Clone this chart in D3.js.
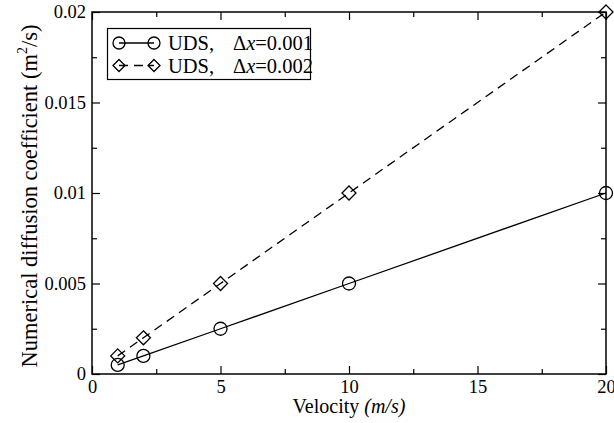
<!DOCTYPE html>
<html>
<head>
<meta charset="utf-8">
<script src="https://cdn.jsdelivr.net/npm/d3@7"></script>
<style>
  body { margin: 0; background: #fff; }
  text { font-family: "Liberation Serif", "Times New Roman", serif; fill: #000; }
</style>
</head>
<body>
<div id="chart"></div>
<script>
// data
const velocity = [1, 2, 5, 10, 20];
const coefDx001 = [0.0005, 0.001, 0.0025, 0.005, 0.01];
const coefDx002 = [0.001, 0.002, 0.005, 0.01, 0.02];
const xTicks = [0, 5, 10, 15, 20];
const yTicks = [0, 0.005, 0.01, 0.015, 0.02];
const xMinor = [2.5, 7.5, 12.5, 17.5];
const yMinor = [0.0025, 0.0075, 0.0125, 0.0175];

const width = 614, height = 423;
const margin = {top: 12, right: 8, bottom: 49, left: 92};

const svg = d3.select('#chart').append('svg')
    .attr('width', width).attr('height', height);

const x = d3.scaleLinear().domain([0, 20]).range([margin.left, width - margin.right]);
const y = d3.scaleLinear().domain([0, 0.02]).range([height - margin.bottom, margin.top]);

const yFmt = d => d === 0 ? '0' : String(+d.toFixed(4));

// axes, ticks pointing inward, mirrored on top and right
function drawAxis(gen, tx, ty){
    return svg.append('g').attr('transform', `translate(${tx},${ty})`).call(gen);
}
drawAxis(d3.axisBottom(x).tickValues(xTicks).tickSizeInner(-8).tickSizeOuter(0).tickPadding(6), 0, y(0));
drawAxis(d3.axisTop(x).tickValues(xTicks).tickSizeInner(-8).tickSizeOuter(0).tickFormat(''), 0, y(0.02));
drawAxis(d3.axisLeft(y).tickValues(yTicks).tickSizeInner(-8).tickSizeOuter(0).tickPadding(6).tickFormat(yFmt), x(0), 0);
drawAxis(d3.axisRight(y).tickValues(yTicks).tickSizeInner(-8).tickSizeOuter(0).tickFormat(''), x(20), 0);
drawAxis(d3.axisBottom(x).tickValues(xMinor).tickSizeInner(-5).tickSizeOuter(0).tickFormat(''), 0, y(0));
drawAxis(d3.axisTop(x).tickValues(xMinor).tickSizeInner(-5).tickSizeOuter(0).tickFormat(''), 0, y(0.02));
drawAxis(d3.axisLeft(y).tickValues(yMinor).tickSizeInner(-5).tickSizeOuter(0).tickFormat(''), x(0), 0);
drawAxis(d3.axisRight(y).tickValues(yMinor).tickSizeInner(-5).tickSizeOuter(0).tickFormat(''), x(20), 0);

svg.selectAll('.domain').remove();
svg.selectAll('.tick line').attr('stroke', '#000').attr('stroke-width', 1.2);
svg.selectAll('.tick text').style('font-family', '"Liberation Serif", serif').style('font-size', '18.5px').attr('fill', '#000');

// frame
svg.append('rect')
    .attr('x', x(0)).attr('y', y(0.02))
    .attr('width', x(20) - x(0)).attr('height', y(0) - y(0.02))
    .attr('fill', 'none').attr('stroke', '#000').attr('stroke-width', 1.5);

// series
const line = d3.line().x(d => x(d[0])).y(d => y(d[1]));
const s1 = velocity.map((v, i) => [v, coefDx001[i]]);
const s2 = velocity.map((v, i) => [v, coefDx002[i]]);

svg.append('path').datum(s1).attr('d', line)
    .attr('fill', 'none').attr('stroke', '#000').attr('stroke-width', 1.3);
svg.append('path').datum(s2).attr('d', line)
    .attr('fill', 'none').attr('stroke', '#000').attr('stroke-width', 1.3)
    .attr('stroke-dasharray', '9,6');

const circ = (g, cx, cy, r = 6.5) => g.append('circle').attr('cx', cx).attr('cy', cy).attr('r', r)
    .attr('fill', 'none').attr('stroke', '#000').attr('stroke-width', 1.3);
const diam = (g, cx, cy, r = 7) => g.append('path')
    .attr('d', `M${cx},${cy - r}L${cx + r},${cy}L${cx},${cy + r}L${cx - r},${cy}Z`)
    .attr('fill', 'none').attr('stroke', '#000').attr('stroke-width', 1.3);

s1.forEach(d => circ(svg, x(d[0]), y(d[1])));
s2.forEach(d => diam(svg, x(d[0]), y(d[1])));

// legend
const lg = svg.append('g');
lg.append('rect').attr('x', 107.5).attr('y', 28.5).attr('width', 203).attr('height', 51)
    .attr('fill', '#fff').attr('stroke', '#000').attr('stroke-width', 1.2);
const rows = [
  {y: 43, dash: null, mark: circ, dx: '0.001'},
  {y: 65.5, dash: '9,6', mark: diam, dx: '0.002'}
];
rows.forEach(r => {
    lg.append('line').attr('x1', 119).attr('x2', 154).attr('y1', r.y).attr('y2', r.y)
      .attr('stroke', '#000').attr('stroke-width', 1.3).attr('stroke-dasharray', r.dash);
    r.mark(lg, 119, r.y, 6);
    r.mark(lg, 154, r.y, 6);
    const t = lg.append('text').attr('y', r.y + 7).style('font-size', '20.5px');
    t.append('tspan').attr('x', 168).text('UDS,');
    t.append('tspan').attr('x', 233).text('\u0394');
    t.append('tspan').style('font-style', 'italic').text('x');
    t.append('tspan').text('=' + r.dx);
});

// axis titles
const xt2 = svg.append('text').attr('x', 349).attr('y', 413)
    .attr('text-anchor', 'middle').style('font-size', '20px');
xt2.append('tspan').text('Velocity ');
xt2.append('tspan').style('font-style', 'italic').text('(m/s)');

const yt = svg.append('text')
    .attr('transform', `translate(37,196) rotate(-90)`)
    .attr('text-anchor', 'middle').style('font-size', '22.5px');
yt.append('tspan').text('Numerical diffusion coefficient (m');
yt.append('tspan').attr('dy', -10).style('font-size', '14px').text('2');
yt.append('tspan').attr('dy', 10).text('/s)');
</script>
</body>
</html>
